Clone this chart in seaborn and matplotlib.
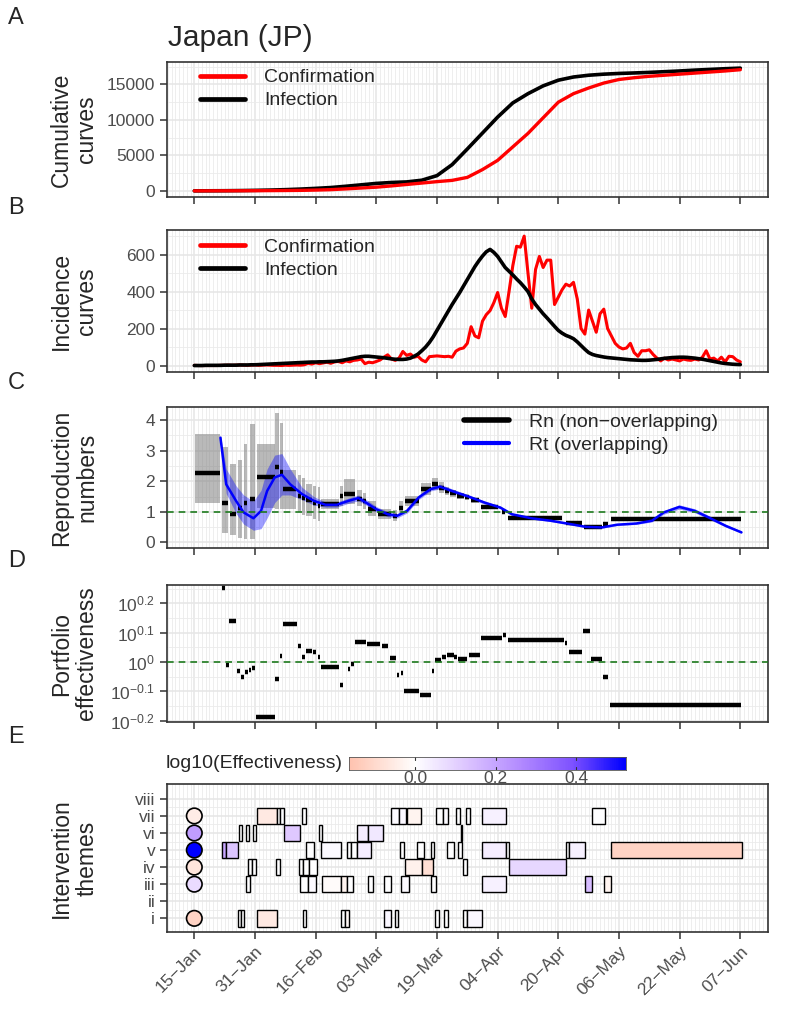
import numpy as np
import matplotlib
matplotlib.use("Agg")
import matplotlib.pyplot as plt
from matplotlib import font_manager
from matplotlib.colors import LinearSegmentedColormap, Normalize
from matplotlib.lines import Line2D
from matplotlib.patches import Rectangle
import seaborn as sns

# x positions are days since 15-Jan-2020
tick_days = [0, 16, 32, 48, 64, 80, 96, 112, 128, 144]
tick_labels = ["15−Jan", "31−Jan", "16−Feb", "03−Mar", "19−Mar",
               "04−Apr", "20−Apr", "06−May", "22−May", "07−Jun"]

# --- A: cumulative curves (every 4 days)
cum_days = [0, 4, 8, 12, 16, 20, 24, 28, 32, 36, 40, 44, 48, 52, 56, 60, 64, 68, 72,
            76, 80, 84, 88, 92, 96, 100, 104, 108, 112, 116, 120, 124, 128, 132, 136, 140, 144]
cum_confirmed = [0, 5, 10, 15, 25, 35, 50, 70, 110, 170, 280, 400, 520, 700, 900, 1100, 1300,
                 1480, 1900, 3000, 4300, 6200, 8100, 10300, 12500, 13700, 14500, 15200, 15700,
                 15950, 16150, 16300, 16450, 16600, 16750, 16900, 17080]
cum_infected = [0, 10, 20, 40, 70, 110, 170, 250, 350, 470, 650, 850, 1050, 1180, 1260, 1500,
                2150, 3700, 5900, 8150, 10400, 12400, 13700, 14800, 15600, 16050, 16300, 16450,
                16550, 16620, 16700, 16800, 16900, 17020, 17120, 17220, 17300]

# --- B: daily incidence
inc_days = list(range(145))
inc_confirmed = [1, 0, 0, 0, 0, 0, 0, 1, 1, 2,
                 1, 2, 3, 2, 1, 2, 3, 1, 2, 3,
                 2, 1, 1, 0, 2, 1, 2, 3, 2, 4,
                 12, 8, 15, 10, 14, 18, 12, 20, 22, 15,
                 25, 20, 28, 30, 35, 10, 18, 15, 22, 30,
                 45, 58, 35, 28, 40, 76, 55, 62, 45, 50,
                 30, 20, 48, 50, 52, 50, 48, 50, 45, 78,
                 90, 95, 120, 210, 160, 150, 240, 275, 297, 340,
                 395, 310, 265, 400, 540, 645, 640, 700, 500, 310,
                 520, 590, 530, 570, 570, 330, 370, 410, 440, 430,
                 450, 360, 200, 170, 300, 240, 180, 280, 305, 200,
                 160, 120, 100, 90, 95, 120, 70, 50, 80, 80,
                 85, 60, 40, 25, 40, 30, 35, 30, 25, 35,
                 30, 28, 35, 30, 45, 80, 35, 40, 25, 45,
                 20, 50, 48, 30, 20]
inc_infected = [0, 0, 0, 1, 1, 1, 1, 1, 2, 2,
                2, 2, 3, 3, 3, 4, 4, 5, 6, 7,
                8, 9, 10, 11, 12, 13, 14, 15, 16, 17,
                18, 19, 19, 20, 20, 21, 22, 23, 25, 28,
                32, 36, 40, 44, 48, 50, 50, 48, 46, 44,
                42, 39, 36, 34, 33, 33, 35, 40, 50, 62,
                80, 100, 125, 155, 190, 225, 260, 295, 330, 362,
                395, 430, 465, 500, 535, 565, 592, 615, 628, 612,
                590, 560, 530, 510, 490, 468, 448, 425, 400, 360,
                330, 305, 280, 258, 235, 212, 190, 175, 163, 155,
                145, 128, 108, 88, 70, 60, 54, 50, 46, 43,
                41, 39, 37, 35, 33, 31, 30, 29, 28, 28,
                29, 31, 33, 36, 39, 41, 43, 44, 45, 45,
                44, 42, 40, 37, 34, 30, 26, 22, 18, 14,
                11, 9, 7, 6, 5]

# --- C: reproduction numbers
rn_start = [0.2, 7.4, 9.4, 11.5, 13.0, 14.6, 16.6, 21.4, 22.5, 23.3,
            27.4, 28.4, 29.4, 31.3, 32.5, 33.3, 38.3, 39.5, 42.8, 44.6,
            45.8, 48.4, 52.5, 54.0, 55.6, 59.7, 62.8, 64.5, 66.2, 67.4,
            69.2, 71.3, 73.0, 75.6, 81.2, 82.8, 98.0, 102.8, 107.9, 110.0]
rn_end = [6.9, 8.9, 11.0, 12.5, 14.0, 15.9, 21.2, 22.3, 23.3, 26.9,
          28.1, 29.1, 31.0, 32.0, 33.1, 38.2, 39.1, 42.3, 44.3, 45.3,
          47.9, 52.0, 53.5, 55.1, 59.2, 62.3, 64.3, 65.8, 67.2, 69.0,
          71.0, 72.5, 75.0, 80.2, 82.0, 97.1, 102.3, 107.4, 109.2, 144.3]
rn_value = [2.28, 1.30, 0.92, 1.14, 1.30, 1.41, 2.14, 2.45, 2.30, 1.74,
            1.52, 1.45, 1.38, 1.30, 1.20, 1.25, 1.52, 1.58, 1.41, 1.36,
            1.09, 0.92, 0.87, 1.14, 1.36, 1.74, 1.90, 1.79, 1.68, 1.60,
            1.52, 1.47, 1.38, 1.16, 0.98, 0.79, 0.65, 0.51, 0.60, 0.76]
rn_low = [1.30, 0.30, 0.25, 0.15, 0.12, 0.12, 1.14, 1.10, 1.10, 1.10,
          1.00, 0.90, 0.85, 0.75, 0.70, 1.10, 1.20, 1.25, 1.20, 1.10,
          0.85, 0.75, 0.70, 0.95, 1.20, 1.55, 1.70, 1.62, 1.55, 1.48,
          1.42, 1.38, 1.30, 1.10, 0.92, 0.76, 0.61, 0.47, 0.54, 0.73]
rn_high = [3.53, 3.10, 2.55, 2.70, 3.20, 3.85, 3.20, 4.24, 3.90, 2.35,
           2.20, 2.10, 1.90, 1.85, 1.80, 1.42, 1.85, 2.07, 1.70, 1.60,
           1.35, 1.10, 1.05, 1.35, 1.52, 1.95, 2.12, 1.96, 1.82, 1.72,
           1.62, 1.56, 1.46, 1.23, 1.05, 0.82, 0.69, 0.55, 0.66, 0.79]

rt_day = [6.9, 8.4, 11, 13, 15.6, 17.6, 19.2, 21.2, 23.1, 25.3,
          28.4, 31.5, 34.6, 37.6, 40.7, 43.3, 45.3, 47.9, 51, 53.5,
          56.1, 59.2, 62.3, 64.8, 68.4, 72.5, 76.6, 80.7, 83.8, 88.9,
          94, 99.2, 103.3, 107.4, 111.5, 116.6, 120.7, 123.8, 127.9, 132,
          136.1, 140.2, 144.3]
rt_value = [3.42, 1.9, 1.36, 0.98, 0.79, 1.03, 1.68, 2.12, 2.21, 1.90,
            1.58, 1.36, 1.23, 1.23, 1.36, 1.45, 1.30, 1.09, 0.92, 0.87,
            1.03, 1.47, 1.74, 1.82, 1.66, 1.49, 1.30, 1.14, 0.92, 0.79,
            0.71, 0.60, 0.51, 0.49, 0.58, 0.62, 0.71, 0.98, 1.16, 1.03,
            0.79, 0.54, 0.33]
rt_low = [3.35, 1.6, 0.95, 0.6, 0.4, 0.45, 0.8, 1.3, 1.55, 1.55,
          1.4, 1.22, 1.15, 1.15, 1.28, 1.36, 1.22, 1.0, 0.84, 0.8,
          0.96, 1.4, 1.68, 1.75, 1.6, 1.44, 1.25, 1.1, 0.88, 0.76,
          0.68, 0.57, 0.48, 0.46, 0.55, 0.59, 0.67, 0.92, 1.09, 0.97,
          0.74, 0.5, 0.3]
rt_high = [3.5, 2.4, 1.85, 1.55, 1.35, 1.7, 2.4, 2.85, 2.9, 2.4,
           1.8, 1.5, 1.32, 1.32, 1.45, 1.55, 1.4, 1.18, 1.0, 0.94,
           1.1, 1.55, 1.82, 1.9, 1.73, 1.55, 1.35, 1.19, 0.96, 0.83,
           0.74, 0.63, 0.54, 0.52, 0.61, 0.66, 0.75, 1.04, 1.23, 1.1,
           0.85, 0.59, 0.37]

# --- D: portfolio effectiveness (log10)
pe_start = [7.4, 8.4, 9.2, 11.3, 12.4, 13.5, 14.3, 15.3, 16.3, 21.4,
            22.5, 23.3, 27.4, 28.4, 29.4, 31.3, 32.5, 33.3, 38.3, 40.5,
            41.4, 42.5, 45.5, 49.4, 51.6, 53.5, 54.4, 55.4, 59.5, 62.6,
            63.5, 65.4, 66.6, 68.6, 69.6, 72.5, 75.6, 81.5, 82.6, 97.7,
            98.7, 102.6, 104.6, 107.7, 109.6]
pe_end = [8.1, 9.1, 11.0, 12.0, 13.0, 14.1, 14.9, 16.1, 21.2, 22.3,
          23.1, 27.2, 28.1, 29.1, 31.0, 32.0, 33.1, 38.2, 39.1, 41.1,
          42.0, 45.3, 48.9, 51.2, 53.2, 54.1, 55.0, 59.2, 62.3, 63.3,
          65.1, 66.3, 68.4, 69.4, 72.0, 75.4, 81.2, 82.3, 97.6, 98.4,
          102.3, 104.3, 107.4, 109.2, 144.3]
pe_log10 = [0.253, -0.012, 0.138, -0.032, -0.052, -0.035, -0.027, -0.020, -0.188, -0.059,
            0.021, 0.128, 0.055, 0.016, 0.038, 0.033, 0.016, -0.019, -0.079, -0.023,
            -0.007, 0.067, 0.061, 0.055, 0.012, -0.046, -0.038, -0.100, -0.112, -0.032,
            0.007, 0.018, 0.025, 0.018, 0.011, 0.024, 0.081, 0.092, 0.075, 0.064,
            0.034, 0.104, 0.009, -0.050, -0.146]

# --- E: intervention themes
theme_labels = ["i", "ii", "iii", "iv", "v", "vi", "vii", "viii"]
overall_row = [1, 3, 4, 5, 6, 7]
overall_log10 = [-0.12, 0.08, -0.07, 0.52, 0.22, -0.05]

iv_row = [7, 7, 7, 7, 7, 7, 7, 7, 7, 7, 7, 7, 7,
          6, 6, 6, 6, 6, 6, 6, 6,
          5, 5, 5, 5, 5, 5, 5, 5, 5, 5, 5, 5, 5, 5, 5, 5, 5,
          4, 4, 4, 4, 4, 4, 4, 4, 4, 4,
          3, 3, 3, 3, 3, 3, 3, 3, 3, 3, 3, 3, 3,
          1, 1, 1, 1, 1, 1, 1, 1, 1, 1, 1, 1]
iv_start = [16.5, 21.7, 22.7, 28.5, 52.0, 54.0, 56.0, 63.8, 65.5, 69.0, 71.7, 75.9, 104.9,
            11.8, 13.6, 15.5, 23.6, 32.8, 42.8, 45.9, 70.3,
            7.4, 8.3, 29.5, 33.4, 40.3, 41.3, 42.8, 54.2, 58.7, 62.4, 66.6, 69.5, 75.9, 82.1, 98.0, 98.9, 110.0,
            14.1, 15.1, 21.5, 27.6, 28.6, 30.2, 55.5, 60.0, 70.9, 83.0,
            13.6, 27.8, 30.0, 33.7, 38.8, 40.3, 45.9, 50.0, 54.5, 62.4, 76.0, 103.0, 108.0,
            11.5, 12.3, 16.6, 28.6, 38.8, 39.7, 50.0, 52.9, 63.6, 65.9, 70.8, 71.8]
iv_end = [21.7, 22.7, 23.6, 29.5, 54.0, 55.7, 59.8, 65.5, 67.0, 70.0, 72.8, 82.1, 108.2,
          12.6, 14.5, 16.4, 27.8, 33.7, 45.9, 49.7, 70.6,
          8.3, 11.5, 31.5, 38.6, 41.3, 42.8, 46.6, 55.4, 60.6, 63.3, 68.6, 70.6, 82.1, 83.0, 98.9, 103.0, 144.5,
          15.1, 16.2, 22.5, 28.6, 30.2, 32.4, 60.0, 63.0, 71.8, 98.0,
          14.6, 30.0, 32.2, 38.8, 40.3, 41.9, 47.0, 51.8, 56.6, 63.8, 82.1, 105.0, 110.0,
          12.3, 13.1, 21.7, 29.5, 39.7, 40.7, 51.8, 53.8, 64.6, 66.9, 71.8, 76.0]
iv_log10 = [-0.06, 0.0, 0.0, 0.0, 0.01, 0.02, -0.03, 0.0, 0.01, 0.0, 0.0, 0.03, 0.0,
            0.0, 0.0, 0.0, 0.12, 0.0, 0.04, 0.05, 0.0,
            0.20, 0.13, 0.0, 0.01, 0.0, 0.0, 0.04, 0.0, 0.0, 0.0, 0.0, 0.0, 0.04, 0.0, 0.0, 0.03, -0.12,
            0.0, 0.0, 0.0, 0.0, 0.0, 0.0, -0.04, -0.09, 0.0, 0.09,
            0.0, 0.0, 0.01, -0.01, -0.03, 0.0, 0.0, 0.0, 0.01, 0.0, 0.03, 0.15, -0.03,
            0.0, 0.0, -0.06, 0.0, 0.0, -0.02, 0.02, 0.0, 0.0, 0.0, 0.0, 0.02]

# ---------------------------------------------------------------- style
sns.set_style("ticks")
names = {f.name for f in font_manager.fontManager.ttflist}
NARROW = "Liberation Sans Narrow" if "Liberation Sans Narrow" in names else "Liberation Sans"
plt.rcParams["font.family"] = ["Liberation Sans", "DejaVu Sans"]
plt.rcParams["mathtext.fontset"] = "custom"
plt.rcParams["mathtext.rm"] = NARROW
plt.rcParams["mathtext.it"] = NARROW

TICK_FONT = dict(family=[NARROW, "DejaVu Sans"], size=12.5, color="#4D4D4D")
W, H = 787, 1024
fig = plt.figure(figsize=(W / 100, H / 100), dpi=100)


def panel(top, bottom):
    return fig.add_axes([167 / W, 1 - bottom / H, (768 - 167) / W, (bottom - top) / H])


def style(ax, ylim, major, minor, labels):
    ax.set_xlim(-7.2, 151.3)
    ax.set_ylim(*ylim)
    ax.set_xticks(tick_days)
    ax.set_xticks(range(-7, 152), minor=True)
    ax.set_yticks(major)
    ax.set_yticks(minor, minor=True)
    ax.grid(which="major", color="#E6E6E6", lw=1.1)
    ax.grid(which="minor", color="#EBEBEB", lw=0.6)
    ax.set_axisbelow(True)
    ax.tick_params(which="minor", length=0)
    ax.tick_params(which="major", length=5, width=1.1, color="#333333", direction="out")
    ax.set_xticklabels([])
    ax.set_yticklabels(labels, fontdict=TICK_FONT)
    for s in ax.spines.values():
        s.set_color("#333333")
        s.set_linewidth(1.2)
    ax.set_xlabel("")
    ax.set_ylabel("")


def ytitle(ax, text):
    pos = ax.get_position()
    fig.text(74 / W, pos.y0 + pos.height / 2, text, rotation=90, ha="center", va="center",
             fontsize=16.5, linespacing=1.15)


cmap = LinearSegmentedColormap.from_list("rwb", [
    (0.0, "#FF0000"), (0.125, "#FF6746"), (0.25, "#FF9E81"), (0.375, "#FFCFBF"),
    (0.5, "#FFFFFF"), (0.625, "#DCC4FF"), (0.75, "#B38BFF"), (0.875, "#7E52FF"),
    (1.0, "#0000FF")])
norm = Normalize(-0.524, 0.524)

leg_kw = dict(loc="upper left", frameon=False, fontsize=14, handlelength=2.3,
              handletextpad=1.0, labelspacing=0.28, borderpad=0, borderaxespad=0)

# ---------------------------------------------------------------- A
ax_a = panel(62, 197)
sns.lineplot(x=cum_days, y=cum_infected, ax=ax_a, color="black", lw=2.6)
sns.lineplot(x=cum_days, y=cum_confirmed, ax=ax_a, color="red", lw=2.4)
style(ax_a, (-865, 18165), [0, 5000, 10000, 15000], [2500, 7500, 12500, 17500],
      ["0", "5000", "10000", "15000"])
leg_h = [Line2D([], [], color="red", lw=3.4), Line2D([], [], color="black", lw=3.4)]
ax_a.legend(leg_h, ["Confirmation", "Infection"], bbox_to_anchor=(0.055, 0.95), **leg_kw)
ytitle(ax_a, "Cumulative\ncurves")

# ---------------------------------------------------------------- B
ax_b = panel(230, 372)
sns.lineplot(x=inc_days, y=inc_confirmed, ax=ax_b, color="red", lw=2.2)
sns.lineplot(x=inc_days, y=inc_infected, ax=ax_b, color="black", lw=2.6)
style(ax_b, (-35, 733), [0, 200, 400, 600], [100, 300, 500, 700], ["0", "200", "400", "600"])
ax_b.legend(leg_h, ["Confirmation", "Infection"], bbox_to_anchor=(0.055, 0.94), **leg_kw)
ytitle(ax_b, "Incidence\ncurves")

# ---------------------------------------------------------------- C
ax_c = panel(407, 548)
for s, e, lo, hi in zip(rn_start, rn_end, rn_low, rn_high):
    ax_c.fill_between([s, e], [lo, lo], [hi, hi], color="#808080", alpha=0.55, lw=0, zorder=2)
ax_c.fill_between(rt_day, rt_low, rt_high, color="blue", alpha=0.38, lw=0, zorder=3)
ax_c.hlines(rn_value, rn_start, rn_end, color="black", lw=3.2, zorder=4)
sns.lineplot(x=rt_day, y=rt_value, ax=ax_c, color="blue", lw=1.8, zorder=5)
ax_c.axhline(1, color="#1E7B1E", lw=1.2, ls=(0, (4, 3)), zorder=6)
style(ax_c, (-0.18, 4.42), [0, 1, 2, 3, 4], [0.5, 1.5, 2.5, 3.5], ["0", "1", "2", "3", "4"])
ax_c.legend([Line2D([], [], color="black", lw=4), Line2D([], [], color="blue", lw=3)],
            ["Rn (non−overlapping)", "Rt (overlapping)"], bbox_to_anchor=(0.495, 0.955), **leg_kw)
ytitle(ax_c, "Reproduction\nnumbers")

# ---------------------------------------------------------------- D
ax_d = panel(585, 722)
ax_d.hlines(pe_log10, pe_start, pe_end, color="black", lw=3.2, zorder=4)
ax_d.axhline(0, color="#1E7B1E", lw=1.2, ls=(0, (4, 3)), zorder=5)
style(ax_d, (-0.205, 0.262), [-0.2, -0.1, 0, 0.1, 0.2], [-0.15, -0.05, 0.05, 0.15, 0.25],
      [r"$\mathrm{10^{-0.2}}$", r"$\mathrm{10^{-0.1}}$", r"$\mathrm{10^{0}}$",
       r"$\mathrm{10^{0.1}}$", r"$\mathrm{10^{0.2}}$"])
ytitle(ax_d, "Portfolio\neffectiveness")

# ---------------------------------------------------------------- E
ax_e = panel(784, 932)
for r, s, e, v in zip(iv_row, iv_start, iv_end, iv_log10):
    ax_e.add_patch(Rectangle((s, r - 0.48), e - s, 0.96, facecolor=cmap(norm(v)),
                             edgecolor="black", lw=1.0, zorder=3))
ax_e.scatter([0] * len(overall_row), overall_row, c=overall_log10, cmap=cmap, norm=norm,
             s=125, edgecolors="black", linewidths=1.2, zorder=5)
style(ax_e, (0.2, 8.87), list(range(1, 9)), [1.5, 2.5, 3.5, 4.5, 5.5, 6.5, 7.5], theme_labels)
ax_e.set_xticklabels(tick_labels, rotation=45, ha="right", va="top", rotation_mode="anchor",
                     fontdict=TICK_FONT)
ytitle(ax_e, "Intervention\nthemes")

# colour bar
cax = fig.add_axes([349 / W, 1 - 770 / H, (626 - 349) / W, 13 / H])
grad = np.linspace(-0.164, 0.524, 300)
cax.imshow(grad[None, :], cmap=cmap, norm=norm, extent=[-0.164, 0.524, 0, 1], aspect="auto")
cax.set_xlim(-0.164, 0.524)
cax.set_ylim(0, 1)
cax.set_yticks([])
cax.set_xticks([0, 0.2, 0.4])
cax.set_xticklabels(["0.0", "0.2", "0.4"], fontdict=TICK_FONT)
cax.tick_params(length=0, pad=1)
for t in [0, 0.2, 0.4]:
    cax.plot([t, t], [0, 0.22], color="#333333", lw=0.8)
    cax.plot([t, t], [0.78, 1], color="#333333", lw=0.8)
for s in cax.spines.values():
    s.set_color("#555555")
    s.set_linewidth(0.6)
fig.text(343 / W, 1 - 763 / H, "log10(Effectiveness)", ha="right", va="center", fontsize=14)

# title and panel letters
fig.text(168 / W, 1 - 46 / H, "Japan (JP)", fontsize=21.5, ha="left", va="baseline")
for letter, yc in zip("ABCDE", [18, 208, 383, 561, 737]):
    fig.text(8 / W, 1 - yc / H, letter, fontsize=17, ha="left", va="center")

fig.savefig("out.png", dpi=100)
